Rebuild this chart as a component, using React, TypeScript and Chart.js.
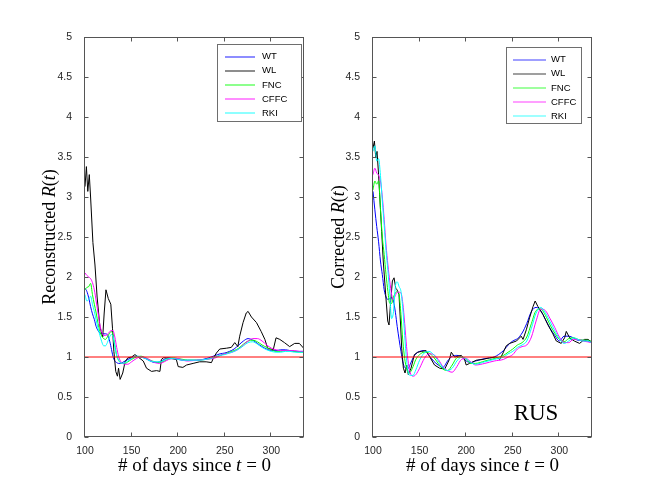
import React, { useEffect, useRef } from "react";
import { Chart, registerables } from "chart.js";
Chart.register(...registerables);

// ---------- data ----------
const DAYS = [100,102,104,106,108,110,112,114,116,118,120,122,124,126,128,130,132,134,136,138,140,143,146,150,155,160,165,170,175,180,185,190,195,200,205,210,220,230,240,245,250,255,260,265,270,275,280,285,290,295,300,305,310,315,320,325,330,335];

const L_WT = [1.86,1.82,1.74,1.63,1.54,1.47,1.38,1.33,1.30,1.29,1.29,1.29,1.28,1.22,1.12,1.01,0.95,0.93,0.92,0.92,0.93,0.95,0.97,0.99,1.01,1.0,0.98,0.95,0.93,0.94,0.97,0.99,0.98,0.97,0.96,0.96,0.96,0.98,1.02,1.04,1.05,1.07,1.1,1.15,1.2,1.23,1.21,1.17,1.13,1.1,1.08,1.08,1.09,1.09,1.08,1.07,1.07,1.07];
const L_FNC = [1.84,1.87,1.88,1.92,1.78,1.66,1.55,1.42,1.32,1.26,1.23,1.22,1.25,1.29,1.32,1.28,1.15,1.02,0.96,0.93,0.92,0.92,0.94,0.97,1.0,1.01,0.99,0.96,0.94,0.93,0.95,0.98,0.99,0.98,0.97,0.96,0.96,0.97,1.0,1.02,1.04,1.06,1.08,1.11,1.16,1.2,1.21,1.19,1.15,1.12,1.09,1.07,1.07,1.08,1.08,1.07,1.06,1.06];
const L_CFFC = [2.05,2.02,2.0,1.98,1.93,1.84,1.7,1.55,1.4,1.31,1.27,1.27,1.28,1.31,1.33,1.33,1.25,1.12,1.01,0.95,0.92,0.91,0.91,0.94,0.98,1.0,0.99,0.96,0.93,0.92,0.94,0.97,0.98,0.98,0.96,0.95,0.96,0.97,0.99,1.02,1.04,1.05,1.07,1.1,1.15,1.2,1.23,1.23,1.2,1.15,1.11,1.09,1.08,1.08,1.08,1.08,1.07,1.07];
const L_RKI = [1.78,1.70,1.72,1.76,1.66,1.57,1.46,1.36,1.27,1.19,1.14,1.14,1.18,1.24,1.28,1.26,1.13,1.02,0.96,0.93,0.92,0.93,0.95,0.98,1.01,1.0,0.98,0.95,0.94,0.94,0.96,0.98,0.98,0.97,0.96,0.96,0.96,0.97,1.0,1.02,1.03,1.05,1.07,1.1,1.14,1.18,1.19,1.16,1.12,1.09,1.07,1.06,1.06,1.07,1.07,1.06,1.06,1.06];

const L_WL_DAYS = [100,101.5,103,104.6,106,108.5,110.7,113,116,119,120.6,122.5,125,127.7,129.5,131,133,134.8,136,137.7,140.5,143,146,150,153.6,157,162.5,166,171.4,176.8,180.4,182,184,187.5,193,198,200,205,209,216,223,230,235.7,237.5,241,244.6,251.8,257,260.7,264,266,269.6,273,275,278.6,284,289,293,296,302,305,309,314,319.6,325,330,334.6];
const L_WL = [3.13,3.38,3.07,3.28,3.0,2.43,2.15,1.75,1.38,1.25,1.55,1.84,1.73,1.66,1.36,1.07,0.82,0.76,0.86,0.72,0.8,0.94,0.99,1.0,1.03,1.0,0.95,0.86,0.82,0.83,0.82,0.97,0.99,0.99,0.98,0.97,0.88,0.87,0.9,0.92,0.94,0.94,0.93,0.98,1.05,1.1,1.11,1.12,1.18,1.13,1.26,1.43,1.55,1.57,1.5,1.43,1.32,1.22,1.11,1.09,1.24,1.22,1.18,1.13,1.17,1.17,1.11];

const R_WT = [3.07,2.84,2.63,2.44,2.2,2.03,1.84,1.75,1.72,1.73,1.74,1.70,1.56,1.38,1.22,1.07,0.94,0.87,0.86,0.86,0.91,0.99,1.04,1.07,1.08,1.02,0.95,0.9,0.87,0.95,1.01,1.02,1.0,0.95,0.93,0.95,0.98,1.0,1.08,1.15,1.2,1.23,1.3,1.42,1.57,1.62,1.58,1.47,1.36,1.27,1.2,1.26,1.26,1.24,1.21,1.21,1.2,1.18];
const R_FNC = [3.09,3.2,3.16,3.2,2.86,2.5,2.28,2.03,1.82,1.67,1.67,1.75,1.8,1.82,1.78,1.53,1.2,0.98,0.86,0.8,0.81,0.88,0.97,1.03,1.06,1.05,1.0,0.92,0.85,0.83,0.9,0.99,1.0,0.97,0.92,0.92,0.95,0.98,1.02,1.06,1.1,1.15,1.18,1.25,1.42,1.58,1.6,1.52,1.4,1.3,1.22,1.19,1.23,1.24,1.22,1.21,1.21,1.19];
const R_CFFC = [3.28,3.36,3.3,3.27,3.2,3.0,2.72,2.4,2.15,1.95,1.78,1.72,1.77,1.81,1.81,1.8,1.67,1.42,1.13,0.92,0.8,0.76,0.78,0.86,0.98,1.04,1.03,0.97,0.88,0.83,0.81,0.88,0.97,0.98,0.94,0.9,0.92,0.95,0.97,1.0,1.03,1.1,1.13,1.15,1.25,1.45,1.6,1.58,1.48,1.37,1.25,1.18,1.18,1.22,1.22,1.2,1.19,1.18];
const R_RKI = [3.57,3.64,3.45,3.48,3.27,2.95,2.65,2.33,2.08,1.78,1.48,1.57,1.88,1.94,1.88,1.82,1.6,1.27,0.96,0.8,0.77,0.77,0.84,0.96,1.05,1.07,1.03,0.95,0.87,0.83,0.86,0.95,1.0,0.98,0.93,0.91,0.94,0.97,1.0,1.04,1.07,1.12,1.15,1.2,1.36,1.55,1.62,1.55,1.44,1.33,1.23,1.17,1.2,1.24,1.22,1.2,1.2,1.18];

const R_WL_DAYS = [100,101.5,103,104.3,106,107.5,109.3,111,113.6,115.8,117.2,119,120.8,122.6,124.4,125.8,127.9,129.4,130.8,132.6,134.4,136.2,137.9,140.8,144.4,148,152,157,161,166,171.5,177,182,184,187.6,194.8,198,200,203.7,211,218,225,232,236,239.5,243,246.6,254,259,261,264.5,268,271.7,274,277,282.4,287.8,293,296.7,302,305.6,307.4,311,316,321.7,327,330.7,334.3];
const R_WL = [3.61,3.7,3.49,3.57,3.28,2.95,2.57,2.2,1.78,1.45,1.4,1.7,1.95,1.99,1.86,1.84,1.78,1.45,1.11,0.86,0.8,0.9,0.78,0.86,1.03,1.06,1.07,1.08,1.0,0.9,0.86,0.85,0.97,1.06,1.0,1.02,0.98,0.9,0.92,0.96,0.97,0.99,1.0,0.97,1.05,1.14,1.17,1.2,1.26,1.22,1.34,1.49,1.63,1.7,1.63,1.53,1.4,1.29,1.2,1.17,1.24,1.32,1.24,1.2,1.17,1.22,1.22,1.19];

const REF_DAYS = [100, 335];
const REF_LEVEL = [1, 1];
const X_TICKS = [100, 150, 200, 250, 300];
const Y_TICKS = [0, 0.5, 1, 1.5, 2, 2.5, 3, 3.5, 4, 4.5, 5];
const SERIES_NAMES = ["WT", "WL", "FNC", "CFFC", "RKI"];
const SERIES_COLORS = ["#0000ff", "#000000", "#00ff00", "#ff00ff", "#00ffff"];

// ---------- styling ----------
const AXIS_COLOR = "#555555";
const TEXT_COLOR = "#262626";
const SERIF = '"Liberation Serif", "Times New Roman", serif';
const SANS = '"Liberation Sans", Arial, sans-serif';

type Seg = { t: string; i?: boolean };

function drawRich(ctx: CanvasRenderingContext2D, segs: Seg[], x: number, y: number, size: number, rot: number) {
  ctx.save();
  ctx.translate(x, y);
  ctx.rotate(rot);
  ctx.fillStyle = "#000";
  ctx.textBaseline = "middle";
  ctx.textAlign = "left";
  let total = 0;
  const widths = segs.map((s) => {
    ctx.font = `${s.i ? "italic " : ""}${size}px ${SERIF}`;
    const w = ctx.measureText(s.t).width;
    total += w;
    return w;
  });
  let cx = -total / 2;
  segs.forEach((s, k) => {
    ctx.font = `${s.i ? "italic " : ""}${size}px ${SERIF}`;
    ctx.fillText(s.t, cx, 0);
    cx += widths[k];
  });
  ctx.restore();
}

const decorPlugin = {
  id: "decor",
  afterDraw(chart: any, _args: any, opts: any) {
    const { ctx, chartArea: a, scales } = chart;
    ctx.save();
    // box
    ctx.strokeStyle = AXIS_COLOR;
    ctx.lineWidth = 1;
    const L = Math.round(a.left) - 0.5, R = Math.round(a.right) - 0.5;
    const T = Math.round(a.top) + 0.5, B = Math.round(a.bottom) - 0.5;
    ctx.strokeRect(L, T, R - L, B - T);
    // inward ticks
    const tl = 4;
    ctx.beginPath();
    X_TICKS.forEach((v) => {
      const px = Math.round(scales.x.getPixelForValue(v)) - 0.5;
      ctx.moveTo(px, B); ctx.lineTo(px, B - tl);
      ctx.moveTo(px, T); ctx.lineTo(px, T + tl);
    });
    Y_TICKS.forEach((v) => {
      const py = Math.round(scales.y.getPixelForValue(v)) + 0.5;
      ctx.moveTo(L, py); ctx.lineTo(L + tl, py);
      ctx.moveTo(R, py); ctx.lineTo(R - tl, py);
    });
    ctx.stroke();

    // legend
    const lg = opts.legend;
    ctx.fillStyle = "#fff";
    ctx.fillRect(lg.x, lg.y, lg.w, lg.h);
    ctx.strokeStyle = "#6e6e6e";
    ctx.lineWidth = 1;
    ctx.strokeRect(lg.x + 0.5, lg.y + 0.5, lg.w, lg.h);
    ctx.font = `9.5px ${SANS}`;
    ctx.textBaseline = "middle";
    ctx.textAlign = "left";
    SERIES_NAMES.forEach((name, k) => {
      const yy = lg.y + 12.5 + k * 14.2;
      ctx.strokeStyle = SERIES_COLORS[k];
      ctx.globalAlpha = 0.75;
      ctx.lineWidth = 1.2;
      ctx.beginPath();
      ctx.moveTo(lg.x + lg.lx0, Math.round(yy));
      ctx.lineTo(lg.x + lg.lx1, Math.round(yy));
      ctx.stroke();
      ctx.globalAlpha = 1;
      ctx.fillStyle = "#000";
      ctx.fillText(name, lg.x + lg.tx, yy);
    });

    // axis titles
    const cxm = (a.left + a.right) / 2;
    drawRich(ctx, [{ t: "# of days since " }, { t: "t", i: true }, { t: " = 0" }], cxm, 466, 19, 0);
    drawRich(ctx, opts.ytitle, opts.ytitleX, (a.top + a.bottom) / 2, 18, -Math.PI / 2);

    if (opts.tag) {
      ctx.font = `23px ${SERIF}`;
      ctx.fillStyle = "#000";
      ctx.textAlign = "center";
      ctx.textBaseline = "alphabetic";
      ctx.fillText(opts.tag.text, opts.tag.x, opts.tag.y);
    }
    ctx.restore();
  },
};

function pts(xs: number[], ys: number[]) {
  return xs.map((x, i) => ({ x, y: ys[i] }));
}

type PanelCfg = {
  left: number;
  yWidth: number;
  padRight: number;
  wt: number[]; wl: number[]; wlDays: number[]; fnc: number[]; cffc: number[]; rki: number[];
  ytitle: Seg[];
  ytitleX: number;
  legend: any;
  tag?: { text: string; x: number; y: number };
};

function Panel({ cfg }: { cfg: PanelCfg }) {
  const ref = useRef<HTMLCanvasElement>(null);
  useEffect(() => {
    const smooth = { pointRadius: 0, borderWidth: 1, tension: 0.4, cubicInterpolationMode: "monotone" as const, fill: false };
    const chart = new Chart(ref.current!, {
      type: "line",
      data: {
        datasets: [
          { label: "ref", data: pts(REF_DAYS, REF_LEVEL), borderColor: "#ff0000", borderWidth: 1, pointRadius: 0, tension: 0 },
          { label: SERIES_NAMES[4], data: pts(DAYS, cfg.rki), borderColor: SERIES_COLORS[4], ...smooth },
          { label: SERIES_NAMES[3], data: pts(DAYS, cfg.cffc), borderColor: SERIES_COLORS[3], ...smooth },
          { label: SERIES_NAMES[2], data: pts(DAYS, cfg.fnc), borderColor: SERIES_COLORS[2], ...smooth },
          { label: SERIES_NAMES[1], data: pts(cfg.wlDays, cfg.wl), borderColor: SERIES_COLORS[1], pointRadius: 0, borderWidth: 1, tension: 0 },
          { label: SERIES_NAMES[0], data: pts(DAYS, cfg.wt), borderColor: SERIES_COLORS[0], ...smooth },
        ] as any,
      },
      options: {
        animation: false,
        responsive: true,
        maintainAspectRatio: false,
        events: [],
        layout: { padding: { left: 0, right: cfg.padRight, top: 37, bottom: 0 } },
        plugins: {
          legend: { display: false },
          tooltip: { enabled: false },
          decor: { legend: cfg.legend, ytitle: cfg.ytitle, ytitleX: cfg.ytitleX, tag: cfg.tag },
        } as any,
        scales: {
          x: {
            type: "linear",
            min: 100,
            max: 335,
            grid: { display: false },
            border: { display: false },
            afterFit: (s: any) => { s.height = 54; },
            afterBuildTicks: (s: any) => { s.ticks = X_TICKS.map((v) => ({ value: v })); },
            ticks: { color: TEXT_COLOR, font: { family: SANS, size: 10.5 }, padding: 0, maxRotation: 0, callback: (v: any) => String(v) },
          },
          y: {
            type: "linear",
            min: 0,
            max: 5,
            grid: { display: false },
            border: { display: false },
            afterFit: (s: any) => { s.width = cfg.yWidth; },
            afterBuildTicks: (s: any) => { s.ticks = Y_TICKS.map((v) => ({ value: v })); },
            ticks: { color: TEXT_COLOR, font: { family: SANS, size: 10.5 }, padding: 5, callback: (v: any) => String(v) },
          },
        },
      },
      plugins: [decorPlugin],
    });
    return () => chart.destroy();
  }, []);
  return (
    <div style={{ position: "absolute", left: cfg.left, top: 0, width: 327, height: 491 }}>
      <canvas ref={ref} />
    </div>
  );
}

const LEFT: PanelCfg = {
  left: 0,
  yWidth: 85,
  padRight: 23,
  wt: L_WT, wl: L_WL, wlDays: L_WL_DAYS, fnc: L_FNC, cffc: L_CFFC, rki: L_RKI,
  ytitle: [{ t: "Reconstructed " }, { t: "R", i: true }, { t: "(" }, { t: "t", i: true }, { t: ")" }],
  ytitleX: 50,
  legend: { x: 217, y: 44, w: 84, h: 77, lx0: 8, lx1: 38, tx: 45 },
};

const RIGHT: PanelCfg = {
  left: 327,
  yWidth: 46,
  padRight: 62,
  wt: R_WT, wl: R_WL, wlDays: R_WL_DAYS, fnc: R_FNC, cffc: R_CFFC, rki: R_RKI,
  ytitle: [{ t: "Corrected " }, { t: "R", i: true }, { t: "(" }, { t: "t", i: true }, { t: ")" }],
  ytitleX: 12,
  legend: { x: 179, y: 47, w: 75, h: 76, lx0: 7, lx1: 40, tx: 45 },
  tag: { text: "RUS", x: 209, y: 420 },
};

export default function App() {
  return (
    <div style={{ position: "absolute", left: 0, top: 0, width: 654, height: 491, background: "#fff" }}>
      <Panel cfg={LEFT} />
      <Panel cfg={RIGHT} />
    </div>
  );
}
